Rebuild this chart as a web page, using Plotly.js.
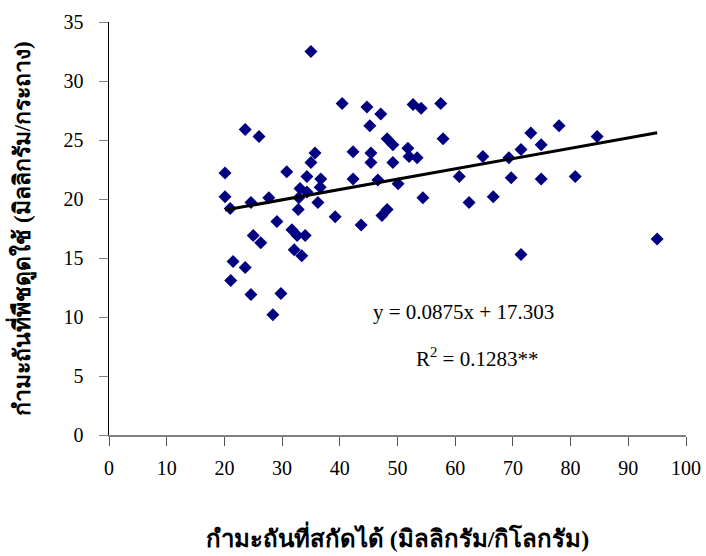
<!DOCTYPE html>
<html>
<head>
<meta charset="utf-8">
<script src="https://cdn.plot.ly/plotly-3.0.1.min.js"></script>
<style>html,body{margin:0;padding:0;background:#fff;}#chart{width:706px;height:556px;}</style>
</head>
<body>
<div id="chart"></div>
<script>
const extractedS = [20.1,23.6,26.0,30.8,20.1,21.0,24.6,27.7,29.1,25.0,26.3,21.5,23.6,21.1,24.6,29.8,28.4,31.7,32.6,34.0,32.1,33.4,40.4,44.7,47.1,45.2,48.2,49.2,35.7,42.3,45.4,35.0,45.4,34.3,36.7,42.3,46.6,33.1,34.3,36.6,36.2,32.8,39.2,43.7,47.3,48.2,32.9,50.1,54.4,35.0,52.7,54.1,57.5,57.9,49.2,51.8,52.0,53.4,64.8,60.7,62.4,78.0,73.1,74.9,71.4,84.6,69.3,69.7,74.9,80.8,66.6,71.4,95.0];
const uptakeS = [22.2,25.9,25.3,22.3,20.2,19.2,19.7,20.1,18.1,16.9,16.3,14.7,14.2,13.1,11.9,12.0,10.2,17.4,16.9,16.9,15.7,15.2,28.1,27.8,27.2,26.2,25.1,24.6,23.9,24.0,23.9,23.1,23.1,21.9,21.7,21.7,21.6,20.9,20.6,21.0,19.7,19.1,18.5,17.8,18.6,19.1,20.1,21.3,20.1,32.5,28.0,27.7,28.1,25.1,23.1,24.3,23.6,23.5,23.6,21.9,19.7,26.2,25.6,24.6,24.2,25.3,23.5,21.8,21.7,21.9,20.2,15.3,16.6];
const slope = 0.0875;
const intercept = 17.303;
const xTicks = [0,10,20,30,40,50,60,70,80,90,100];
const yTicks = [0,5,10,15,20,25,30,35];
const xTitle = 'กำมะถันที่สกัดได้ (มิลลิกรัม/กิโลกรัม)';
const yTitle = 'กำมะถันที่พืชดูดใช้ (มิลลิกรัม/กระถาง)';
const eqText = 'y = 0.0875x + 17.303';
const r2Text = 'R<sup>2</sup> = 0.1283**';

const xMin = Math.min(...extractedS), xMax = Math.max(...extractedS);
const trendX = [xMin, xMax];
const trendY = trendX.map(v => slope * v + intercept);

const serif = '"Liberation Serif", "Times New Roman", serif';

Plotly.newPlot('chart', [
  {x: extractedS, y: uptakeS, type: 'scatter', mode: 'markers',
   marker: {symbol: 'diamond', size: 10, color: '#000080'}, hoverinfo: 'x+y'},
  {x: trendX, y: trendY, type: 'scatter', mode: 'lines',
   line: {color: '#000000', width: 3}}
], {
  width: 706, height: 556,
  margin: {l: 109, r: 20, t: 22, b: 121},
  paper_bgcolor: '#fff', plot_bgcolor: '#fff',
  showlegend: false,
  font: {family: serif, size: 20, color: '#000'},
  xaxis: {range: [0, 100], tickvals: xTicks, ticktext: xTicks.map(String),
    showgrid: false, zeroline: false, showline: true, linecolor: '#808080', linewidth: 1.5,
    ticks: 'outside', ticklen: 9, tickcolor: '#555', tickwidth: 1,
    ticklabelstandoff: 5,
    tickfont: {family: serif, size: 20},
    title: {text: xTitle, font: {family: serif, size: 24, weight: 'bold'}, standoff: 52}},
  yaxis: {range: [0, 35], tickvals: yTicks, ticktext: yTicks.map(String),
    showgrid: false, zeroline: false, showline: true, linecolor: '#000', linewidth: 1.5,
    ticks: 'outside', ticklen: 9, tickcolor: '#808080', tickwidth: 1,
    ticklabelstandoff: 11,
    tickfont: {family: serif, size: 20},
    title: {text: yTitle, font: {family: serif, size: 23, weight: 'bold'}, standoff: 26}},
  annotations: [
    {x: 61.4, y: 10.4, xref: 'x', yref: 'y', text: eqText, showarrow: false,
     font: {family: serif, size: 21}},
    {x: 63.8, y: 6.6, xref: 'x', yref: 'y', text: r2Text, showarrow: false,
     font: {family: serif, size: 21}}
  ]
}, {displayModeBar: false, staticPlot: true});
</script>
</body>
</html>
